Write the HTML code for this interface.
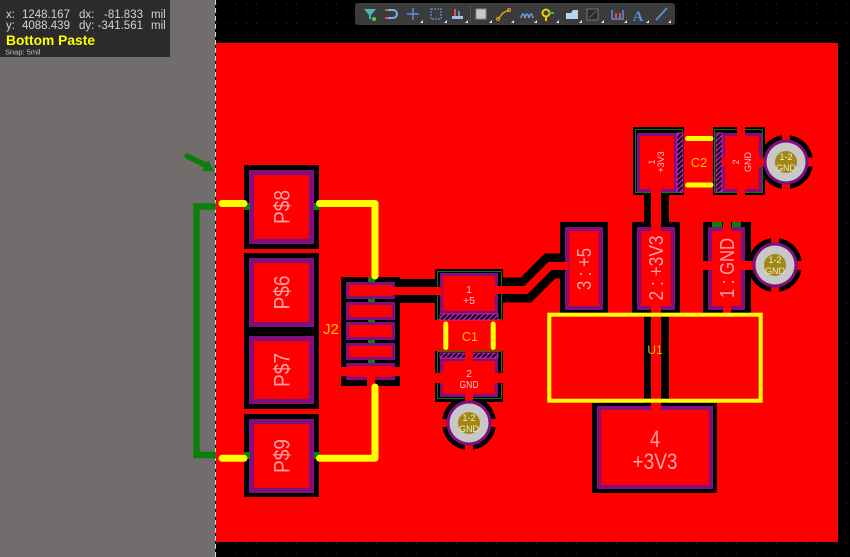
<!DOCTYPE html>
<html><head><meta charset="utf-8"><style>html,body{margin:0;padding:0;background:#000;overflow:hidden}svg{display:block}</style></head>
<body>
<svg width="850" height="557" viewBox="0 0 850 557" xmlns="http://www.w3.org/2000/svg" font-family="Liberation Sans, sans-serif">
<defs>
<pattern id="grid" width="10" height="10" patternUnits="userSpaceOnUse" x="216" y="3"><rect x="0" y="0" width="1" height="1" fill="#2e2e2e"/></pattern>
<pattern id="hatch" width="3.5" height="3.5" patternUnits="userSpaceOnUse" patternTransform="rotate(45)"><rect width="3.5" height="3.5" fill="#000"/><rect width="1.4" height="3.5" fill="#c21ec2"/></pattern>
</defs>
<rect width="850" height="557" fill="#000"/>
<rect width="850" height="557" fill="url(#grid)"/>
<rect x="0" y="0" width="215" height="557" fill="#716d6d"/>
<line x1="215.5" y1="0" x2="215.5" y2="557" stroke="#d4d4d4" stroke-width="1" stroke-dasharray="5 3"/>
<rect x="216" y="43" width="622" height="499" fill="#f00"/>

<!-- black clearances -->
<g fill="#000">
 <rect x="244" y="165" width="75" height="84"/>
 <rect x="244" y="253" width="75" height="156"/>
 <rect x="244" y="414" width="75" height="83"/>
 <rect x="341" y="277" width="59" height="109"/>
 <rect x="395" y="279" width="45" height="24"/>
 <rect x="435" y="269" width="68" height="51"/>
 <rect x="435" y="351" width="68" height="51"/>
 <circle cx="469" cy="423" r="27"/>
 <rect x="633" y="127" width="51" height="68"/>
 <rect x="713" y="127" width="52" height="68"/>
 <circle cx="786" cy="162" r="27"/>
 <rect x="644" y="190" width="25" height="220"/>
 <rect x="560" y="222" width="48" height="91"/>
 <rect x="632" y="222" width="48" height="91"/>
 <rect x="703" y="222" width="48" height="91"/>
 <circle cx="775" cy="265" r="27"/>
 <rect x="592" y="403" width="125" height="90"/>
</g>
<path d="M500,290 L526,290 L550,266 L563,266" fill="none" stroke="#000" stroke-width="25"/>

<!-- green outlines -->
<g fill="none" stroke="#0a7a0a" stroke-width="1">
 <rect x="437.5" y="271.5" width="64" height="48"/>
 <rect x="437.5" y="351.5" width="64" height="47"/>
 <rect x="635.5" y="129.5" width="47" height="63"/>
 <rect x="714.5" y="129.5" width="48" height="63"/>
</g>

<!-- purple pads -->
<g fill="#801080">
 <rect x="249" y="170" width="65" height="74"/>
 <rect x="249" y="258" width="65" height="69"/>
 <rect x="249" y="336" width="65" height="68"/>
 <rect x="249" y="419" width="65" height="74"/>
 <rect x="346" y="282" width="49" height="17"/>
 <rect x="346" y="302" width="49" height="18"/>
 <rect x="346" y="322" width="49" height="18"/>
 <rect x="346" y="343" width="49" height="17"/>
 <rect x="346" y="363" width="49" height="17"/>
 <rect x="440" y="273" width="58" height="41"/>
 <rect x="440" y="358" width="58" height="39"/>
 <rect x="637" y="133" width="40" height="59"/>
 <rect x="722" y="133" width="40" height="59"/>
 <rect x="565" y="227" width="38" height="83"/>
 <rect x="637" y="227" width="38" height="83"/>
 <rect x="708" y="227" width="37" height="83"/>
 <rect x="597" y="406" width="116" height="83"/>
</g>
<!-- red pad interiors -->
<g fill="#f00">
 <rect x="254" y="175" width="55" height="64"/>
 <rect x="254" y="263" width="55" height="59"/>
 <rect x="254" y="341" width="55" height="58"/>
 <rect x="254" y="424" width="55" height="64"/>
 <rect x="349" y="285" width="43" height="11"/>
 <rect x="349" y="305" width="43" height="12"/>
 <rect x="349" y="325" width="43" height="12"/>
 <rect x="349" y="346" width="43" height="11"/>
 <rect x="349" y="366" width="43" height="11"/>
 <rect x="443" y="276" width="52" height="35"/>
 <rect x="443" y="361" width="52" height="33"/>
 <rect x="640" y="136" width="34" height="53"/>
 <rect x="725" y="136" width="34" height="53"/>
 <rect x="569" y="231" width="30" height="75"/>
 <rect x="641" y="231" width="30" height="75"/>
 <rect x="712" y="231" width="29" height="75"/>
 <rect x="601" y="410" width="108" height="75"/>
</g>
<!-- hatch strips -->
<g fill="url(#hatch)" stroke="#d22cd2" stroke-width="0.8">
 <rect x="440" y="314" width="58" height="6"/>
 <rect x="440" y="353" width="58" height="5"/>
 <rect x="677" y="133" width="6" height="59"/>
 <rect x="716" y="133" width="6" height="59"/>
</g>

<!-- red traces / spokes -->
<g fill="#f00">
 <rect x="341" y="367" width="59" height="9"/>
 <rect x="367" y="376" width="8" height="12"/>
 <rect x="392" y="287" width="50" height="8"/>
 <rect x="432" y="373" width="74" height="10"/>
 <rect x="465" y="350" width="8" height="105"/>
 <rect x="438" y="419" width="62" height="8"/>
 <rect x="722" y="157.5" width="95" height="9"/>
 <rect x="737" y="124" width="8" height="74"/>
 <rect x="782" y="131" width="8" height="62"/>
 <rect x="700" y="261" width="106" height="9"/>
 <rect x="723" y="219" width="8" height="97"/>
 <rect x="771" y="234" width="8" height="62"/>
 <rect x="651" y="188" width="10" height="222"/>
</g>
<path d="M495,290 L526,290 L550,266 L568,266" fill="none" stroke="#f00" stroke-width="8"/>

<!-- green bits -->
<g fill="#0a800a">
 <rect x="368" y="277" width="7" height="5"/>
 <rect x="368" y="299" width="7" height="3"/>
 <rect x="368" y="320" width="7" height="2"/>
 <rect x="368" y="340" width="7" height="3"/>
 <rect x="368" y="360" width="7" height="3"/>
 <rect x="244" y="203" width="6" height="7"/>
 <rect x="314" y="203" width="6" height="7"/>
 <rect x="244" y="452" width="6" height="7"/>
 <rect x="314" y="452" width="6" height="7"/>
 <rect x="712" y="222" width="10" height="5"/>
 <rect x="732" y="222" width="9" height="5"/>
</g>

<!-- vias -->
<g>
 <circle cx="469" cy="423" r="22.5" fill="#801080"/>
 <circle cx="469" cy="423" r="19.5" fill="#c8c8c8"/>
 <circle cx="469" cy="423" r="11" fill="#a08716"/>
 <circle cx="786" cy="162" r="22.5" fill="#801080"/>
 <circle cx="786" cy="162" r="19.5" fill="#c8c8c8"/>
 <circle cx="786" cy="162" r="11" fill="#a08716"/>
 <circle cx="775" cy="265" r="22.5" fill="#801080"/>
 <circle cx="775" cy="265" r="19.5" fill="#c8c8c8"/>
 <circle cx="775" cy="265" r="11" fill="#a08716"/>
</g>
<g fill="#f4eccc" font-size="9" text-anchor="middle">
 <text x="469" y="421">1-2</text><text x="469" y="432">GND</text>
 <text x="786" y="160">1-2</text><text x="786" y="171">GND</text>
 <text x="775" y="263">1-2</text><text x="775" y="274">GND</text>
</g>

<!-- green net line + arrow -->
<path d="M216,206.5 L196.5,206.5 L196.5,455 L216,455" fill="none" stroke="#0a800a" stroke-width="6.5"/>
<line x1="187" y1="156" x2="206" y2="165.5" stroke="#0a800a" stroke-width="5.5" stroke-linecap="round"/>
<polygon points="214,171 202,171 208,160" fill="#0a800a"/>

<!-- yellow traces -->
<g fill="none" stroke="#ff0" stroke-width="7" stroke-linecap="round" stroke-linejoin="round">
 <path d="M222,203.5 L244,203.5"/>
 <path d="M319.5,203.5 L375,203.5 L375,276"/>
 <path d="M375,387 L375,458.3 L319.5,458.3"/>
 <path d="M222,458.3 L244,458.3"/>
</g>
<!-- silkscreen -->
<g stroke="#ff0" stroke-width="5" stroke-linecap="round">
 <line x1="445.8" y1="324" x2="445.8" y2="347.5"/>
 <line x1="493.2" y1="324" x2="493.2" y2="347.5"/>
 <line x1="687.5" y1="138.5" x2="711" y2="138.5"/>
 <line x1="687.5" y1="185" x2="711" y2="185"/>
</g>
<rect x="549.3" y="314.7" width="211.4" height="86" fill="none" stroke="#ff0" stroke-width="4"/>
<g fill="#ffc400">
 <text x="323" y="334" font-size="15">J2</text>
 <text x="470" y="341" font-size="12.5" text-anchor="middle">C1</text>
 <text x="699" y="167" font-size="13" text-anchor="middle">C2</text>
</g>
<text x="655" y="354" font-size="12" fill="#e0c800" text-anchor="middle">U1</text>

<!-- pad labels -->
<g fill="#ffa4a4" text-anchor="middle" font-size="22">
 <text transform="translate(281.5,207) rotate(-90)" y="8" textLength="34" lengthAdjust="spacingAndGlyphs">P$8</text>
 <text transform="translate(281.5,292.5) rotate(-90)" y="8" textLength="34" lengthAdjust="spacingAndGlyphs">P$6</text>
 <text transform="translate(281.5,370) rotate(-90)" y="8" textLength="34" lengthAdjust="spacingAndGlyphs">P$7</text>
 <text transform="translate(281.5,456) rotate(-90)" y="8" textLength="34" lengthAdjust="spacingAndGlyphs">P$9</text>
</g>
<g fill="#ffa4a4" text-anchor="middle" font-size="20">
 <text transform="translate(584,269) rotate(-90)" y="7" textLength="42" lengthAdjust="spacingAndGlyphs">3 : +5</text>
 <text transform="translate(656,268) rotate(-90)" y="7" textLength="65" lengthAdjust="spacingAndGlyphs">2 : +3V3</text>
 <text transform="translate(727,268) rotate(-90)" y="7" textLength="60" lengthAdjust="spacingAndGlyphs">1 : GND</text>
 <text x="655" y="447" font-size="24" textLength="10" lengthAdjust="spacingAndGlyphs">4</text>
 <text x="655" y="469" font-size="22" textLength="45" lengthAdjust="spacingAndGlyphs">+3V3</text>
</g>
<g fill="#ffc4c4" text-anchor="middle" font-size="10.5">
 <text x="469" y="293">1</text>
 <text x="469" y="304">+5</text>
 <text x="469" y="377">2</text>
 <text x="469" y="388" textLength="19" lengthAdjust="spacingAndGlyphs">GND</text>
</g>
<g fill="#ffc4c4" text-anchor="middle" font-size="9">
 <text transform="translate(651.5,162) rotate(-90)" y="3.3">1</text>
 <text transform="translate(660.5,162) rotate(-90)" y="3.3">+3V3</text>
 <text transform="translate(735.5,162) rotate(-90)" y="3.3">2</text>
 <text transform="translate(747.5,162) rotate(-90)" y="3.3">GND</text>
</g>

<!-- info box -->
<rect x="0" y="0" width="170" height="57" fill="#2b2b2b"/>
<g fill="#d2d2d2" font-size="11.5">
 <text x="6" y="18">x:</text><text x="22" y="18">1248.167</text><text x="79" y="18">dx:</text><text x="143" y="18" text-anchor="end">-81.833</text><text x="151" y="18">mil</text>
 <text x="6" y="29">y:</text><text x="22" y="29">4088.439</text><text x="79" y="29">dy:</text><text x="143" y="29" text-anchor="end">-341.561</text><text x="151" y="29">mil</text>
</g>
<text x="6" y="45" font-size="13.5" font-weight="bold" fill="#ffff00" textLength="89" lengthAdjust="spacingAndGlyphs">Bottom Paste</text>
<text x="5" y="54.5" font-size="7.5" fill="#c4c4c4">Snap: 5mil</text>

<!-- toolbar -->
<rect x="355" y="3" width="320" height="22" rx="3" fill="#3b3b3b"/>
<line x1="470.5" y1="6" x2="470.5" y2="22" stroke="#555" stroke-width="1"/>
<g>
 <polygon points="364,9 376,9 371,15 371,19 369,19 369,15" fill="#4fb3c4"/>
 <circle cx="374" cy="19" r="2" fill="#52d34a"/>
 <path d="M386,10 h7 a4,4 0 0 1 0,8 h-7" fill="none" stroke="#7ab0e6" stroke-width="2"/>
 <rect x="385" y="9" width="3" height="2" fill="#e05050"/><rect x="385" y="17" width="3" height="2" fill="#e05050"/>
 <path d="M413,8 v12 M407,14 h12" stroke="#5b8fd8" stroke-width="1.5"/>
 <rect x="431" y="9" width="10" height="10" fill="none" stroke="#5b8fd8" stroke-width="1.2" stroke-dasharray="2 1"/>
 <rect x="452" y="16" width="11" height="3" fill="#9fc2ea"/>
 <rect x="454" y="9" width="2" height="7" fill="#e05050"/><rect x="458" y="11" width="2" height="5" fill="#5b8fd8"/>
 <rect x="476" y="9" width="10" height="10" fill="#c8c8c8" stroke="#888" stroke-width="1"/>
 <path d="M498,19 L503,13 L509,10" fill="none" stroke="#e0a020" stroke-width="1.5"/>
 <circle cx="498" cy="19" r="1.5" fill="none" stroke="#e0a020"/><circle cx="509" cy="10" r="1.5" fill="none" stroke="#e0a020"/>
 <path d="M521,18 q2,-8 4,0 q2,-8 4,0 q2,-8 4,0" fill="none" stroke="#6aa0e0" stroke-width="1.5"/>
 <circle cx="546" cy="13" r="3.5" fill="none" stroke="#f0d000" stroke-width="2"/>
 <rect x="545" y="16" width="2" height="5" fill="#f0d000"/><rect x="549" y="12" width="5" height="2" fill="#40c040"/>
 <polygon points="566,19 566,13 571,13 573,10 578,10 578,19" fill="#b8d4f0"/>
 <rect x="587" y="9" width="11" height="11" fill="#2b2b2b" stroke="#777" stroke-width="1"/>
 <line x1="589" y1="18" x2="596" y2="11" stroke="#666" stroke-width="1"/>
 <path d="M612,10 v9 h11 v-9" fill="none" stroke="#5b8fd8" stroke-width="1.5"/>
 <rect x="615" y="13" width="2" height="5" fill="#e05050"/><rect x="619" y="13" width="2" height="5" fill="#e05050"/>
 <text x="638" y="21" font-family="Liberation Serif, serif" font-size="15" font-weight="bold" fill="#5b8fd8" text-anchor="middle">A</text>
 <line x1="656" y1="20" x2="667" y2="8" stroke="#5b8fd8" stroke-width="1.8"/>
</g>
<g fill="#e8e8e8">
 <polygon points="420,23 423,20 423,23"/><polygon points="444,23 447,20 447,23"/><polygon points="465,23 468,20 468,23"/>
 <polygon points="489,23 492,20 492,23"/><polygon points="511,23 514,20 514,23"/><polygon points="534,23 537,20 537,23"/>
 <polygon points="556,23 559,20 559,23"/><polygon points="579,23 582,20 582,23"/><polygon points="601,23 604,20 604,23"/>
 <polygon points="624,23 627,20 627,23"/><polygon points="646,23 649,20 649,23"/><polygon points="668,23 671,20 671,23"/>
</g>
</svg>
</body></html>
